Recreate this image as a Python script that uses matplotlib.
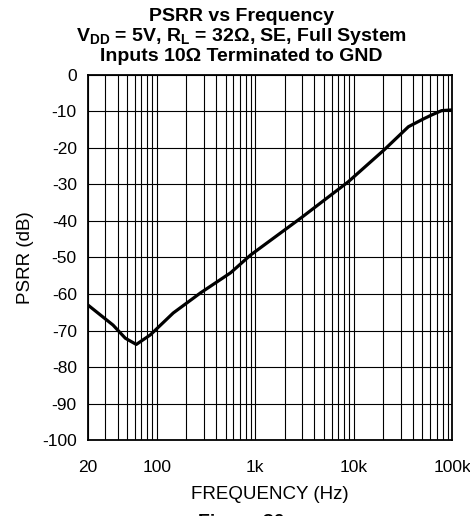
import matplotlib
matplotlib.use("Agg")
import matplotlib.pyplot as plt
from matplotlib.ticker import FixedLocator, NullFormatter, LogLocator
import numpy as np

plt.rcParams["font.family"] = ["Liberation Sans", "DejaVu Sans"]
plt.rcParams["mathtext.fontset"] = "custom"
plt.rcParams["mathtext.rm"] = "Liberation Sans"
plt.rcParams["mathtext.bf"] = "Liberation Sans:bold"

# PSRR curve
freq = [20, 36, 48, 62, 86, 147, 278, 562, 900, 2910, 8790, 20470, 36000, 50000, 61800, 78200, 100000]
psrr = [-63.0, -68.5, -72.1, -73.8, -71.2, -65.2, -59.7, -54.2, -49.3, -39.2, -29.3, -20.5, -14.2, -12.2, -11.0, -9.8, -9.6]

xticks = [20, 100, 1000, 10000, 100000]
xticklabels = ["20", "100", "1k", "10k", "100k"]
yticks = list(range(-100, 1, 10))

fig = plt.figure(figsize=(4.7, 5.16), dpi=100)
ax = fig.add_axes([0.187, 0.147, 0.775, 0.708])

ax.plot(freq, psrr, color="black", lw=2.3, solid_joinstyle="round", zorder=3)

ax.set_xscale("log")
ax.set_xlim(20, 100000)
ax.set_ylim(-100, 0)
ax.xaxis.set_major_locator(FixedLocator(xticks))
ax.set_xticklabels(xticklabels)
ax.xaxis.set_minor_locator(LogLocator(base=10, subs=np.arange(2, 10)))
ax.xaxis.set_minor_formatter(NullFormatter())
ax.set_yticks(yticks)
ax.set_yticklabels([str(v) for v in yticks])

ax.grid(True, which="both", axis="x", color="black", lw=0.8)
ax.grid(True, which="major", axis="y", color="black", lw=0.8)
ax.tick_params(which="both", length=0, labelsize=12.5)
ax.tick_params(axis="x", pad=14)
ax.tick_params(axis="y", pad=8)
for s in ax.spines.values():
    s.set_linewidth(1.3)

ax.set_xlabel("FREQUENCY (Hz)", fontsize=13.5, labelpad=8)
ax.set_ylabel("PSRR (dB)", fontsize=13.5, labelpad=6)

title_kw = dict(ha="center", va="baseline", fontsize=14, fontweight="bold")
fig.text(0.513, 1 - 21 / 516, "PSRR vs Frequency", **title_kw)
fig.text(0.513, 1 - 41 / 516, r"V$_{\mathbf{DD}}$ = 5V, R$_{\mathbf{L}}$ = 32Ω, SE, Full System", **title_kw)
fig.text(0.513, 1 - 61 / 516, "Inputs 10Ω Terminated to GND", **title_kw)
fig.text(0.513, 1 - 527 / 516, "Figure 30", **title_kw)

fig.savefig("out.png", dpi=100)
